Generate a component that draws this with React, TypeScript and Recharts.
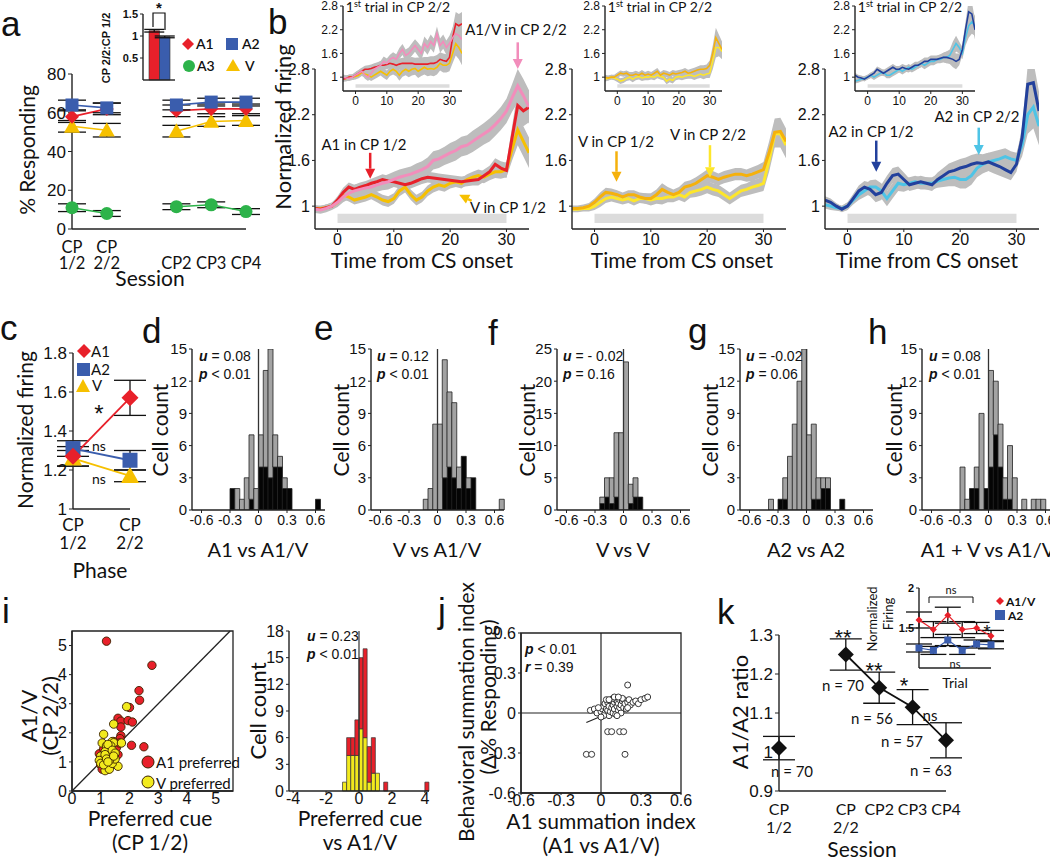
import React from 'react';
import {
  ComposedChart, Line, Area, Bar, Scatter, XAxis, YAxis, ErrorBar,
  ReferenceLine, ReferenceArea,
} from 'recharts';

const NUM = "'Liberation Sans', Arial, sans-serif";
const TXT = "Lato, 'Open Sans', sans-serif";
const INK = '#111';

const RED = '#e8202a';
const BLUE = '#3a5dad';
const GREEN = '#2db34a';
const GOLD = '#f6c000';
const PINK = '#f28dbb';
const ORANGE = '#f5b10c';
const LEMON = '#fde62b';
const NAVY = '#22409c';
const CYAN = '#4ec4e6';
const BAND = '#bdbdbd';
const CSBAR = '#dcdcdc';
const IYEL = '#f2ea1d';

// ---------- a: % responding
const sessionsA = ['CP\n1/2', 'CP\n2/2', '', 'CP2', 'CP3', 'CP4'];
const respA1 = [58, 62, null, 61, 62, 62];
const respA2 = [64, 62.5, null, 64, 65.5, 65.5];
const respA3 = [11, 8, null, 11.5, 12.5, 9];
const respV = [53, 51, null, 50.5, 55.5, 56];
const respA1Err = [3, 3, null, 3, 2.5, 2.5];
const respA2Err = [2.5, 2.5, null, 2.5, 2, 2];
const respA3Err = [2, 1.5, null, 1.5, 1.5, 1.5];
const respVErr = [3, 3.5, null, 3, 2.5, 2.5];
const insetGroups = ['A1', 'A2'];
const insetRatio = [1.12, 0.98];
const insetRatioErr = [0.03, 0.02];

// ---------- b: normalized firing traces (1 s bins)
const timeB = [-4, -3, -2, -1, 0, 1, 2, 3, 4, 5, 6, 7, 8, 9, 10, 11, 12, 13, 14, 15, 16, 17, 18, 19, 20, 21, 22, 23, 24, 25, 26, 27, 28, 29, 30, 31, 32, 33, 34];
const b1Pink = [0.96, 0.95, 0.97, 1.0, 1.05, 1.12, 1.17, 1.2, 1.22, 1.24, 1.25, 1.28, 1.3, 1.32, 1.35, 1.38, 1.4, 1.42, 1.45, 1.48, 1.52, 1.6, 1.62, 1.66, 1.7, 1.73, 1.78, 1.8, 1.85, 1.9, 1.95, 2.0, 2.07, 2.15, 2.25, 2.42, 2.58, 2.45, 2.3];
const b1Red = [0.97, 0.96, 0.98, 1.0, 1.08, 1.18, 1.25, 1.22, 1.25, 1.27, 1.3, 1.32, 1.35, 1.33, 1.32, 1.3, 1.28, 1.3, 1.33, 1.36, 1.38, 1.37, 1.36, 1.35, 1.34, 1.33, 1.32, 1.33, 1.34, 1.35, 1.4, 1.45, 1.55, 1.5, 1.47, 1.9, 2.32, 2.25, 2.3];
const b1Gold = [0.97, 0.97, 0.98, 1.0, 1.05, 1.15, 1.12, 1.08, 1.1, 1.12, 1.15, 1.12, 1.08, 1.06, 1.1, 1.2, 1.25, 1.15, 1.08, 1.12, 1.2, 1.25, 1.28, 1.26, 1.3, 1.32, 1.3, 1.35, 1.38, 1.4, 1.38, 1.42, 1.45, 1.45, 1.48, 1.75, 2.0, 1.85, 1.7];
const semB1Pink = [0.05, 0.05, 0.05, 0.05, 0.06, 0.07, 0.08, 0.08, 0.08, 0.08, 0.09, 0.09, 0.09, 0.1, 0.1, 0.1, 0.1, 0.1, 0.11, 0.11, 0.12, 0.12, 0.12, 0.12, 0.13, 0.13, 0.13, 0.13, 0.14, 0.14, 0.14, 0.15, 0.15, 0.15, 0.16, 0.18, 0.22, 0.22, 0.22];
const semB1 = [0.04, 0.04, 0.04, 0.04, 0.05, 0.06, 0.06, 0.06, 0.06, 0.06, 0.06, 0.07, 0.07, 0.07, 0.07, 0.07, 0.07, 0.07, 0.07, 0.07, 0.07, 0.07, 0.07, 0.07, 0.07, 0.07, 0.07, 0.07, 0.07, 0.08, 0.08, 0.08, 0.08, 0.09, 0.1, 0.15, 0.2, 0.2, 0.2];
const b1InRed = [0.95, 0.97, 1.0, 1.0, 1.05, 1.1, 1.15, 1.2, 1.2, 1.22, 1.25, 1.27, 1.3, 1.3, 1.32, 1.35, 1.33, 1.3, 1.33, 1.35, 1.35, 1.35, 1.35, 1.33, 1.33, 1.33, 1.33, 1.33, 1.35, 1.35, 1.38, 1.45, 1.42, 1.4, 1.5, 2.0, 2.35, 2.3, 2.35];
const b1InPink = [1.0, 0.98, 0.97, 1.0, 1.05, 1.1, 1.15, 1.05, 1.0, 1.1, 1.2, 1.25, 1.3, 1.4, 1.35, 1.45, 1.5, 1.45, 1.6, 1.7, 1.55, 1.6, 1.7, 1.8, 1.7, 1.6, 1.85, 1.75, 1.9, 1.8, 2.1, 1.8, 1.9, 1.75, 1.85, 2.0, 2.1, 2.05, 1.95];
const b1InGold = [0.97, 0.96, 1.0, 1.0, 1.02, 1.05, 1.12, 1.08, 1.05, 1.0, 1.05, 1.1, 1.15, 1.1, 1.05, 1.15, 1.2, 1.15, 1.05, 1.15, 1.2, 1.15, 1.2, 1.22, 1.15, 1.2, 1.25, 1.2, 1.22, 1.2, 1.25, 1.35, 1.3, 1.3, 1.35, 1.6, 1.85, 1.75, 1.6];
const semB1In = [0.07, 0.07, 0.07, 0.07, 0.08, 0.08, 0.09, 0.09, 0.1, 0.1, 0.1, 0.11, 0.11, 0.12, 0.12, 0.12, 0.13, 0.13, 0.14, 0.14, 0.15, 0.15, 0.16, 0.16, 0.17, 0.17, 0.18, 0.18, 0.18, 0.18, 0.18, 0.18, 0.18, 0.18, 0.2, 0.25, 0.3, 0.3, 0.3];

const b2Orange = [0.97, 0.97, 0.98, 1.0, 1.05, 1.12, 1.18, 1.17, 1.15, 1.12, 1.15, 1.15, 1.12, 1.1, 1.1, 1.15, 1.22, 1.18, 1.15, 1.18, 1.25, 1.27, 1.3, 1.35, 1.4, 1.38, 1.35, 1.38, 1.4, 1.42, 1.42, 1.4, 1.42, 1.45, 1.48, 1.7, 1.97, 1.98, 1.85];
const b2Lemon = [0.96, 0.96, 0.97, 0.97, 1.0, 1.05, 1.1, 1.12, 1.1, 1.08, 1.1, 1.07, 1.1, 1.1, 1.08, 1.1, 1.1, 1.12, 1.12, 1.15, 1.12, 1.18, 1.2, 1.22, 1.25, 1.22, 1.2, 1.15, 1.1, 1.15, 1.2, 1.22, 1.25, 1.27, 1.3, 1.6, 1.95, 1.95, 1.8];
const semB2 = [0.04, 0.04, 0.04, 0.04, 0.05, 0.06, 0.06, 0.06, 0.06, 0.06, 0.06, 0.06, 0.06, 0.07, 0.07, 0.07, 0.08, 0.07, 0.07, 0.07, 0.07, 0.07, 0.08, 0.08, 0.08, 0.08, 0.08, 0.08, 0.08, 0.08, 0.08, 0.08, 0.09, 0.09, 0.1, 0.15, 0.18, 0.18, 0.17];
const b2InOrange = [1.0, 0.98, 1.0, 1.0, 1.05, 1.1, 1.08, 1.1, 1.05, 1.05, 1.08, 1.05, 1.1, 1.05, 1.08, 1.05, 1.1, 1.15, 1.05, 1.1, 1.08, 1.05, 1.1, 1.08, 1.1, 1.12, 1.15, 1.1, 1.12, 1.15, 1.18, 1.2, 1.2, 1.22, 1.3, 1.6, 2.0, 1.85, 1.7];
const b2InLemon = [0.95, 0.97, 1.0, 0.98, 0.95, 0.9, 0.92, 0.97, 1.0, 0.95, 1.0, 1.02, 0.98, 1.0, 1.0, 1.02, 1.0, 1.05, 1.02, 1.0, 0.9, 0.95, 0.92, 1.0, 1.02, 1.0, 1.03, 1.05, 1.05, 1.02, 1.05, 1.08, 1.05, 1.08, 1.1, 1.4, 1.75, 1.75, 1.65];
const semB2In = [0.06, 0.06, 0.06, 0.06, 0.07, 0.07, 0.07, 0.07, 0.08, 0.08, 0.08, 0.08, 0.08, 0.08, 0.08, 0.08, 0.08, 0.08, 0.08, 0.08, 0.08, 0.08, 0.08, 0.08, 0.08, 0.08, 0.08, 0.09, 0.09, 0.09, 0.09, 0.1, 0.1, 0.1, 0.12, 0.2, 0.25, 0.22, 0.2];

const b3Navy = [1.08, 1.05, 1.0, 0.96, 1.0, 1.1, 1.2, 1.25, 1.22, 1.15, 1.18, 1.3, 1.4, 1.42, 1.35, 1.28, 1.3, 1.32, 1.3, 1.28, 1.35, 1.4, 1.45, 1.47, 1.5, 1.52, 1.55, 1.57, 1.56, 1.58, 1.55, 1.52, 1.48, 1.44, 1.55, 1.9, 2.6, 2.62, 2.25];
const b3Cyan = [1.02, 1.0, 0.98, 0.97, 1.0, 1.08, 1.15, 1.2, 1.25, 1.25, 1.2, 1.1, 1.2, 1.3, 1.28, 1.3, 1.32, 1.3, 1.3, 1.3, 1.33, 1.35, 1.37, 1.38, 1.35, 1.35, 1.4, 1.5, 1.55, 1.58, 1.6, 1.62, 1.65, 1.62, 1.6, 1.8, 2.2, 2.3, 2.05];
const semB3 = [0.05, 0.05, 0.04, 0.04, 0.05, 0.06, 0.07, 0.08, 0.09, 0.1, 0.1, 0.1, 0.1, 0.1, 0.09, 0.08, 0.08, 0.08, 0.08, 0.08, 0.09, 0.1, 0.11, 0.12, 0.12, 0.12, 0.12, 0.12, 0.12, 0.12, 0.12, 0.12, 0.11, 0.1, 0.1, 0.15, 0.25, 0.28, 0.25];
const b3InNavy = [1.05, 1.0, 0.98, 0.95, 1.0, 1.05, 1.1, 1.2, 1.15, 1.1, 1.15, 1.2, 1.25, 1.2, 1.2, 1.25, 1.22, 1.2, 1.25, 1.3, 1.3, 1.35, 1.4, 1.4, 1.45, 1.45, 1.45, 1.48, 1.5, 1.5, 1.48, 1.45, 1.4, 1.45, 1.7, 2.2, 2.65, 2.6, 2.2];
const b3InCyan = [0.9, 0.92, 0.95, 0.97, 1.0, 1.05, 1.0, 1.05, 1.1, 1.12, 1.05, 1.05, 1.1, 1.15, 1.2, 1.15, 1.2, 1.25, 1.2, 1.25, 1.3, 1.35, 1.3, 1.35, 1.4, 1.4, 1.45, 1.45, 1.5, 1.5, 1.55, 1.7, 1.85, 1.75, 1.6, 2.0, 2.3, 2.4, 2.3];
const semB3In = [0.06, 0.06, 0.06, 0.06, 0.06, 0.07, 0.07, 0.07, 0.08, 0.08, 0.08, 0.08, 0.08, 0.08, 0.08, 0.08, 0.08, 0.08, 0.08, 0.09, 0.09, 0.09, 0.1, 0.1, 0.1, 0.1, 0.1, 0.1, 0.12, 0.15, 0.15, 0.2, 0.2, 0.15, 0.15, 0.2, 0.3, 0.3, 0.25];

// ---------- c: normalized firing by phase
const phasesC = ['CP\n1/2', 'CP\n2/2'];
const firingA1 = [1.27, 1.57];
const firingA2 = [1.31, 1.25];
const firingV = [1.26, 1.17];
const firingA1Err = [0.05, 0.09];
const firingA2Err = [0.04, 0.05];
const firingVErr = [0.04, 0.03];

// ---------- d-h: histograms (gray = all cells, black = significant)
const histBins = [-0.675, -0.625, -0.575, -0.525, -0.475, -0.425, -0.375, -0.325, -0.275, -0.225, -0.175, -0.125, -0.075, -0.025, 0.025, 0.075, 0.125, 0.175, 0.225, 0.275, 0.325, 0.375, 0.425, 0.475, 0.525, 0.575, 0.625, 0.675];
const dTotal = [0, 0, 0, 0, 0, 0, 0, 0, 2, 2, 1, 3, 7, 2, 7, 13, 15, 7, 5, 3, 2, 0, 0, 0, 0, 0, 1, 0];
const dBlack = [0, 0, 0, 0, 0, 0, 0, 0, 2, 0, 0, 0, 1, 0, 4, 4, 3, 4, 4, 2, 2, 0, 0, 0, 0, 0, 1, 0];
const eTotal = [0, 0, 0, 0, 0, 0, 0, 0, 0, 0, 0, 1, 2, 8, 8, 14, 11, 10, 4, 5, 3, 3, 0, 0, 0, 0, 0, 1];
const eBlack = [0, 0, 0, 0, 0, 0, 0, 0, 0, 0, 0, 0, 0, 0, 0, 3, 4, 3, 2, 5, 2, 3, 0, 0, 0, 0, 0, 0];
const fTotal = [0, 0, 0, 0, 0, 0, 0, 0, 0, 2, 5, 5, 12, 12, 23, 4, 5, 2, 0, 0, 0, 0, 0, 0, 0, 0, 0, 0];
const fBlack = [0, 0, 0, 0, 0, 0, 0, 0, 0, 1, 2, 1, 2, 0, 0, 1, 2, 2, 0, 0, 0, 0, 0, 0, 0, 0, 0, 0];
const gTotal = [0, 0, 0, 0, 0, 0, 1, 0, 1, 3, 5, 8, 12, 15, 7, 8, 3, 3, 3, 0, 0, 1, 0, 0, 0, 0, 0, 0];
const gBlack = [0, 0, 0, 0, 0, 0, 0, 0, 1, 1, 0, 0, 0, 0, 0, 1, 1, 2, 2, 0, 0, 1, 0, 0, 0, 0, 0, 0];
const hTotal = [0, 0, 0, 0, 0, 0, 0, 0, 4, 1, 2, 4, 9, 2, 13, 12, 8, 3, 6, 3, 0, 1, 0, 1, 1, 1, 0, 0];
const hBlack = [0, 0, 0, 0, 0, 0, 0, 0, 0, 0, 2, 2, 0, 2, 4, 7, 4, 1, 1, 0, 0, 0, 0, 0, 0, 0, 0, 0];

// ---------- i: preferred cue vs A1/V
const iRedPoints = [[1.2, 5.15], [2.78, 4.32], [2.33, 3.45], [2.35, 3.12], [2.0, 2.87], [1.6, 2.5], [1.7, 2.4], [1.95, 2.42], [2.1, 2.37], [1.7, 2.2], [1.7, 1.9], [2.07, 1.57], [2.5, 1.52], [1.67, 1.8], [1.6, 1.25], [1.3, 1.5], [1.4, 1.35], [1.2, 1.2], [1.05, 1.25], [0.95, 1.28], [1.1, 0.8], [1.0, 0.9], [1.3, 1.0], [1.5, 1.55], [1.45, 1.7], [1.15, 1.05], [1.25, 0.75], [1.35, 1.15], [1.55, 1.5], [1.1, 1.45], [1.3, 0.85], [1.0, 1.1], [1.2, 0.95], [1.4, 1.6], [1.65, 1.65], [1.25, 1.3], [1.05, 0.75]];
const iYellowPoints = [[1.9, 2.9], [1.45, 2.3], [1.1, 1.95], [1.4, 1.7], [1.45, 1.66], [1.72, 1.65], [1.6, 0.85], [1.05, 1.65], [1.2, 1.55], [1.3, 1.45], [1.15, 1.35], [1.0, 1.2], [1.1, 1.1], [1.25, 1.15], [1.35, 1.25], [1.05, 1.0], [0.95, 1.05], [1.2, 0.85], [1.15, 0.7], [1.3, 0.75], [1.4, 0.95], [1.5, 1.1], [1.35, 1.55], [1.25, 1.6], [1.15, 1.25], [1.0, 0.95], [1.1, 0.9], [1.4, 1.4], [1.5, 1.3], [1.3, 1.05], [1.2, 1.1], [1.45, 1.2], [1.25, 1.0]];
const iBins = [-4.125, -3.875, -3.625, -3.375, -3.125, -2.875, -2.625, -2.375, -2.125, -1.875, -1.625, -1.375, -1.125, -0.875, -0.625, -0.375, -0.125, 0.125, 0.375, 0.625, 0.875, 1.125, 1.375, 1.625, 1.875, 2.125, 2.375, 2.625, 2.875, 3.125, 3.375, 3.625, 3.875, 4.125];
const iTotal = [0, 0, 0, 0, 0, 0, 0, 0, 0, 0, 0, 0, 0, 1, 6, 6, 8, 15, 16, 5, 6, 2, 0, 1, 0, 0, 0, 0, 0, 0, 0, 0, 0, 1];
const iYellow = [0, 0, 0, 0, 0, 0, 0, 0, 0, 0, 0, 0, 0, 1, 4, 4, 4, 7, 6, 1, 2, 2, 0, 0, 0, 0, 0, 0, 0, 0, 0, 0, 0, 0];

// ---------- j: summation index
const jPoints = [[0.2, 0.21], [0.05, -0.14], [0.08, -0.14], [0.14, -0.14], [0.17, -0.14], [-0.11, -0.31], [-0.07, -0.31], [0.18, -0.31],
  [-0.08, 0.02], [-0.05, 0.03], [-0.03, 0.0], [0.0, 0.01], [0.01, 0.03], [0.02, 0.05], [0.03, 0.0], [0.03, 0.07], [0.04, 0.03], [0.05, 0.08], [0.05, 0.02], [0.06, -0.02], [0.06, 0.05], [0.07, 0.09], [0.07, 0.01], [0.08, 0.04], [0.08, 0.1], [0.09, 0.06], [0.09, 0.0], [0.1, 0.08], [0.1, 0.03], [0.11, 0.1], [0.11, -0.01], [0.12, 0.05], [0.12, 0.09], [0.13, 0.02], [0.13, 0.07], [0.14, 0.1], [0.14, 0.04], [0.15, 0.06], [0.15, 0.0], [0.16, 0.09], [0.17, 0.04], [0.17, 0.1], [0.18, 0.07], [0.19, 0.03], [0.2, 0.08], [0.21, 0.1], [0.22, 0.06], [0.24, 0.08], [0.26, 0.09], [0.28, 0.07], [0.3, 0.1], [0.33, 0.11], [0.35, 0.12], [0.02, -0.02], [0.04, 0.1], [0.09, 0.11], [0.06, 0.1], [0.12, -0.02], [0.0, -0.03], [-0.02, 0.04], [0.16, 0.11], [0.2, 0.04], [0.1, 0.12], [0.13, 0.12]];
const jFit = { slope: 0.42, intercept: -0.025 };

// ---------- k: A1/A2 ratio
const sessionsK = ['CP\n1/2', '', 'CP\n2/2', 'CP2', 'CP3', 'CP4'];
const ratioK = [1.01, null, 1.25, 1.165, 1.115, 1.03];
const ratioKErr = [0.03, null, 0.04, 0.04, 0.045, 0.045];
const trialsK = ['1', '2', '3', '4', '5', '6'];
const trialA1V = [1.6, 1.48, 1.66, 1.48, 1.5, 1.4];
const trialA1VErr = [0.1, 0.1, 0.1, 0.1, 0.07, 0.07];
const trialA2 = [1.25, 1.22, 1.35, 1.22, 1.3, 1.29];
const trialA2Err = [0.05, 0.05, 0.07, 0.05, 0.05, 0.05];

// ---------- helpers
const AX = { stroke: '#222', strokeWidth: 1.4 };
const TL = { stroke: '#222' };
const tk = (s) => ({ fontSize: s, fontFamily: NUM, fill: INK });

function Frame({ box, yw, xh, data, children, barGap, barCategoryGap }) {
  const [x0, y0, x1, y1] = box;
  const pad = 12;
  return (
    <div style={{ position: 'absolute', left: x0 - yw, top: y0 - pad }}>
      <ComposedChart
        width={x1 - x0 + yw + pad}
        height={y1 - y0 + xh + pad}
        data={data}
        margin={{ top: pad, right: pad, bottom: 0, left: 0 }}
        barGap={barGap}
        barCategoryGap={barCategoryGap}
      >
        {children}
      </ComposedChart>
    </div>
  );
}

const CatTick = ({ x, y, payload, size, dy, gap, single }) => {
  const parts = String(payload.value).split('\n');
  const lines = parts.length === 1 && single === 2 ? ['', parts[0]] : parts;
  return (
    <text x={x} y={y} textAnchor="middle" fontSize={size} fontFamily={TXT} fill={INK}>
      {lines.map((l, i) => (
        <tspan key={i} x={x} y={y + dy + i * gap}>{l}</tspan>
      ))}
    </text>
  );
};

const mk = (kind, color, s, stroke = 'none') => (p) => {
  const { cx, cy, index, value } = p;
  if (cx == null || cy == null || value == null) return <g key={`m${index}`} />;
  if (kind === 'diamond')
    return <polygon key={`m${index}`} points={`${cx},${cy - s} ${cx + s},${cy} ${cx},${cy + s} ${cx - s},${cy}`} fill={color} stroke={stroke} />;
  if (kind === 'square')
    return <rect key={`m${index}`} x={cx - s} y={cy - s} width={2 * s} height={2 * s} fill={color} stroke={stroke} />;
  if (kind === 'triangle')
    return <polygon key={`m${index}`} points={`${cx},${cy - s} ${cx + s},${cy + s * 0.8} ${cx - s},${cy + s * 0.8}`} fill={color} />;
  return <circle key={`m${index}`} cx={cx} cy={cy} r={s} fill={color} stroke={stroke} />;
};

const Arrow = (p) => {
  const { x1, y1, x2, y2, color } = p;
  const ang = Math.atan2(y2 - y1, x2 - x1);
  const L = 10;
  const W = 5;
  const bx = x2 - L * Math.cos(ang);
  const by = y2 - L * Math.sin(ang);
  const px = -Math.sin(ang) * W;
  const py = Math.cos(ang) * W;
  return (
    <g>
      <line x1={x1} y1={y1} x2={bx} y2={by} stroke={color} strokeWidth={2.5} />
      <polygon points={`${x2},${y2} ${bx + px},${by + py} ${bx - px},${by - py}`} fill={color} />
    </g>
  );
};

function traceRows(series) {
  return timeB.map((t, i) => {
    const row = { t };
    Object.keys(series).forEach((k) => {
      const [v, s] = series[k];
      row[k] = v[i];
      row[k + 'Band'] = [v[i] - s[i], v[i] + s[i]];
    });
    return row;
  });
}

function Trace({ box, rows, lines, w, size, yw, xh, cs, yDomain, arrows = [] }) {
  return (
    <Frame box={box} data={rows} yw={yw} xh={xh}>
      <XAxis dataKey="t" type="number" domain={[-4, 34]} ticks={[0, 10, 20, 30]} allowDataOverflow
        axisLine={AX} tickLine={TL} tickSize={3} tick={tk(size)} height={xh} />
      <YAxis type="number" domain={yDomain} ticks={[1, 1.6, 2.2, 2.8]} allowDataOverflow
        axisLine={AX} tickLine={TL} tickSize={3} tick={tk(size)} width={yw} />
      <ReferenceArea x1={0} x2={30} y1={cs[0]} y2={cs[1]} fill={CSBAR} fillOpacity={1} stroke="none" ifOverflow="visible" />
      {lines.map((l) => (
        <Area key={l.key + 'Band'} dataKey={l.key + 'Band'} type="linear" stroke="none" fill={BAND}
          fillOpacity={1} isAnimationActive={false} activeDot={false} />
      ))}
      {lines.map((l) => (
        <Line key={l.key} dataKey={l.key} type="linear" stroke={l.color} strokeWidth={w}
          dot={false} isAnimationActive={false} activeDot={false} />
      ))}
      {arrows.map((a, i) => (
        <ReferenceLine key={'ar' + i} segment={[{ x: a.x1, y: a.y1 }, { x: a.x2, y: a.y2 }]}
          ifOverflow="visible" shape={(p) => <Arrow {...p} color={a.color} />} />
      ))}
    </Frame>
  );
}

function Hist({ box, total, black, yMax, yTicks }) {
  const rows = histBins.map((b, i) => ({ bin: b, black: black[i], gray: total[i] - black[i] }));
  return (
    <Frame box={box} data={rows} yw={30} xh={24} barCategoryGap={0} barGap={0}>
      <XAxis xAxisId="c" dataKey="bin" type="category" hide height={0} />
      <XAxis xAxisId="n" dataKey="bin" type="number" domain={[-0.7, 0.7]} ticks={[-0.6, -0.3, 0, 0.3, 0.6]}
        allowDataOverflow axisLine={AX} tickLine={TL} tickSize={3} tick={tk(14)} height={24} />
      <YAxis domain={[0, yMax]} ticks={yTicks} allowDataOverflow axisLine={AX} tickLine={TL}
        tickSize={3} tick={tk(15)} width={30} />
      <Bar xAxisId="c" dataKey="black" stackId="s" fill="#050505" stroke="#222" strokeWidth={0.8} isAnimationActive={false} />
      <Bar xAxisId="c" dataKey="gray" stackId="s" fill="#a3a3a3" stroke="#222" strokeWidth={0.8} isAnimationActive={false} />
      <ReferenceLine xAxisId="n" x={0} stroke="#333" strokeWidth={1.3} />
    </Frame>
  );
}

const Tx = ({ x, y, s = 16, a = 'middle', r = false, w = 400, it = false, f = TXT, c = INK, children }) => (
  <text
    x={r ? 0 : x}
    y={r ? 0 : y}
    transform={r ? `translate(${x},${y}) rotate(-90)` : undefined}
    textAnchor={a}
    fontSize={s}
    fontWeight={w}
    fontStyle={it ? 'italic' : 'normal'}
    fontFamily={f}
    fill={c}
  >
    {children}
  </text>
);

const UP = ({ x, y, l1, v1, l2, v2 }) => (
  <g>
    <Tx x={x} y={y} s={14} a="start" f={NUM}>
      <tspan fontWeight="bold" fontStyle="italic">{l1}</tspan>{v1}
    </Tx>
    <Tx x={x} y={y + 18} s={14} a="start" f={NUM}>
      <tspan fontWeight="bold" fontStyle="italic">{l2}</tspan>{v2}
    </Tx>
  </g>
);

const Trial = ({ x, y }) => (
  <Tx x={x} y={y} s={14}>
    1<tspan dy={-5} fontSize={9}>st</tspan><tspan dy={5}> trial in CP 2/2</tspan>
  </Tx>
);

export default function App() {
  const rowsA = sessionsA.map((s, i) => ({
    s, a1: respA1[i], a2: respA2[i], a3: respA3[i], v: respV[i],
    a1Err: respA1Err[i], a2Err: respA2Err[i], a3Err: respA3Err[i], vErr: respVErr[i],
  }));
  const rowsAIn = [{ g: insetGroups.join('/'), a1: insetRatio[0], a2: insetRatio[1], a1Err: insetRatioErr[0], a2Err: insetRatioErr[1] }];
  const rowsB1 = traceRows({ pink: [b1Pink, semB1Pink], red: [b1Red, semB1], gold: [b1Gold, semB1] });
  const rowsB1In = traceRows({ pink: [b1InPink, semB1In], red: [b1InRed, semB1In], gold: [b1InGold, semB1In] });
  const rowsB2 = traceRows({ orange: [b2Orange, semB2], lemon: [b2Lemon, semB2] });
  const rowsB2In = traceRows({ orange: [b2InOrange, semB2In], lemon: [b2InLemon, semB2In] });
  const rowsB3 = traceRows({ navy: [b3Navy, semB3], cyan: [b3Cyan, semB3] });
  const rowsB3In = traceRows({ navy: [b3InNavy, semB3In], cyan: [b3InCyan, semB3In] });
  const rowsC = phasesC.map((p, i) => ({
    p, a1: firingA1[i], a2: firingA2[i], v: firingV[i],
    a1Err: firingA1Err[i], a2Err: firingA2Err[i], vErr: firingVErr[i],
  }));
  const rowsIH = iBins.map((b, i) => ({ bin: b, yel: iYellow[i], red: iTotal[i] - iYellow[i] }));
  const redPts = iRedPoints.map(([x, y]) => ({ x, y }));
  const yelPts = iYellowPoints.map(([x, y]) => ({ x, y }));
  const jPts = jPoints.map(([x, y]) => ({ x, y }));
  const jxs = jPoints.map((p) => p[0]);
  const jx0 = Math.min(...jxs);
  const jx1 = Math.max(...jxs.filter((x) => x < 0.4));
  const rowsK = sessionsK.map((s, i) => ({ s, r: ratioK[i], rErr: ratioKErr[i] }));
  const rowsKIn = trialsK.map((t, i) => ({ t, av: trialA1V[i], avErr: trialA1VErr[i], a2: trialA2[i], a2Err: trialA2Err[i] }));

  const catTick = (size, dy, gap, single) => (p) => <CatTick {...p} size={size} dy={dy} gap={gap} single={single} />;
  const eb = (key, w = 14) => <ErrorBar dataKey={key} width={w} stroke="#111" strokeWidth={1.3} direction="y" />;

  return (
    <div style={{ position: 'absolute', left: 0, top: 0, width: 1050, height: 857, background: '#fff', overflow: 'hidden' }}>
      <style>{'.recharts-surface{overflow:visible}'}</style>

      {/* a */}
      <Frame box={[72, 74, 246, 229]} data={rowsA} yw={40} xh={44}>
        <XAxis dataKey="s" axisLine={AX} tickLine={false} height={44} interval={0} tick={catTick(16.5, 16, 16, 2)} />
        <YAxis domain={[0, 80]} ticks={[0, 20, 40, 60, 80]} axisLine={AX} tickLine={TL} tickSize={4} tick={tk(17)} width={40} />
        <Line dataKey="a3" stroke={GREEN} strokeWidth={1.6} dot={mk('circle', GREEN, 6.5)} isAnimationActive={false} activeDot={false}>{eb('a3Err')}</Line>
        <Line dataKey="v" stroke={GOLD} strokeWidth={1.6} dot={mk('triangle', GOLD, 8)} isAnimationActive={false} activeDot={false}>{eb('vErr')}</Line>
        <Line dataKey="a1" stroke={RED} strokeWidth={1.6} dot={mk('diamond', RED, 7)} isAnimationActive={false} activeDot={false}>{eb('a1Err')}</Line>
        <Line dataKey="a2" stroke={BLUE} strokeWidth={1.6} dot={mk('square', BLUE, 6.5)} isAnimationActive={false} activeDot={false}>{eb('a2Err')}</Line>
      </Frame>
      <Frame box={[143, 14, 175, 80]} data={rowsAIn} yw={26} xh={4} barGap={0}>
        <XAxis dataKey="g" axisLine={AX} tick={false} tickLine={false} height={4} />
        <YAxis domain={[0, 1.5]} ticks={[0, 0.5, 1, 1.5]} axisLine={AX} tickLine={TL} tickSize={3}
          tick={{ fontSize: 11, fontFamily: NUM, fontWeight: 'bold', fill: INK }} width={26} />
        <Bar dataKey="a1" fill={RED} stroke="#333" strokeWidth={0.6} barSize={10.5} isAnimationActive={false}>{eb('a1Err', 10)}</Bar>
        <Bar dataKey="a2" fill={BLUE} stroke="#333" strokeWidth={0.6} barSize={10.5} isAnimationActive={false}>{eb('a2Err', 10)}</Bar>
      </Frame>

      {/* b */}
      <Trace box={[315, 69, 529, 229]} rows={rowsB1} w={3} size={16} yw={36} xh={26} cs={[0.78, 0.9]} yDomain={[0.7, 2.8]}
        lines={[{ key: 'gold', color: GOLD }, { key: 'red', color: RED }, { key: 'pink', color: PINK }]}
        arrows={[
          { x1: 5.8, y1: 1.7, x2: 5.8, y2: 1.36, color: RED },
          { x1: 32, y1: 3.15, x2: 32, y2: 2.8, color: PINK },
          { x1: 23.8, y1: 1.07, x2: 21.6, y2: 1.15, color: GOLD },
        ]} />
      <Trace box={[343, 6, 462, 91]} rows={rowsB1In} w={1.6} size={12} yw={26} xh={20} cs={[0.73, 0.82]} yDomain={[0.65, 2.8]}
        lines={[{ key: 'gold', color: GOLD }, { key: 'red', color: RED }, { key: 'pink', color: PINK }]} />

      <Trace box={[572, 69, 786, 229]} rows={rowsB2} w={3} size={16} yw={36} xh={26} cs={[0.78, 0.9]} yDomain={[0.7, 2.8]}
        lines={[{ key: 'lemon', color: LEMON }, { key: 'orange', color: ORANGE }]}
        arrows={[
          { x1: 3.9, y1: 1.72, x2: 3.9, y2: 1.32, color: ORANGE },
          { x1: 20.5, y1: 1.8, x2: 20.5, y2: 1.38, color: LEMON },
        ]} />
      <Trace box={[605, 6, 722, 91]} rows={rowsB2In} w={1.6} size={12} yw={26} xh={20} cs={[0.73, 0.82]} yDomain={[0.65, 2.8]}
        lines={[{ key: 'lemon', color: LEMON }, { key: 'orange', color: ORANGE }]} />

      <Trace box={[825, 69, 1039, 229]} rows={rowsB3} w={3} size={16} yw={36} xh={26} cs={[0.78, 0.9]} yDomain={[0.7, 2.8]}
        lines={[{ key: 'cyan', color: CYAN }, { key: 'navy', color: NAVY }]}
        arrows={[
          { x1: 5.1, y1: 1.86, x2: 5.1, y2: 1.45, color: NAVY },
          { x1: 23.3, y1: 2.03, x2: 23.3, y2: 1.67, color: CYAN },
        ]} />
      <Trace box={[855, 6, 975, 91]} rows={rowsB3In} w={1.6} size={12} yw={26} xh={20} cs={[0.73, 0.82]} yDomain={[0.65, 2.8]}
        lines={[{ key: 'cyan', color: CYAN }, { key: 'navy', color: NAVY }]} />

      {/* c */}
      <Frame box={[73, 353, 130, 509]} data={rowsC} yw={42} xh={44}>
        <XAxis dataKey="p" axisLine={AX} tickLine={false} height={44} interval={0} tick={catTick(17, 14, 18, 1)} />
        <YAxis domain={[1, 1.8]} ticks={[1, 1.2, 1.4, 1.6, 1.8]} axisLine={AX} tickLine={TL} tickSize={4} tick={tk(17)} width={42} />
        <Line dataKey="v" stroke={GOLD} strokeWidth={1.8} dot={mk('triangle', GOLD, 9)} isAnimationActive={false} activeDot={false}>{eb('vErr', 16)}</Line>
        <Line dataKey="a2" stroke={BLUE} strokeWidth={1.8} dot={mk('square', BLUE, 7.5)} isAnimationActive={false} activeDot={false}>{eb('a2Err', 16)}</Line>
        <Line dataKey="a1" stroke={RED} strokeWidth={1.8} dot={mk('diamond', RED, 8.5)} isAnimationActive={false} activeDot={false}>{eb('a1Err', 16)}</Line>
      </Frame>

      {/* d-h */}
      <Hist box={[192, 349, 325, 510]} total={dTotal} black={dBlack} yMax={15} yTicks={[0, 3, 6, 9, 12, 15]} />
      <Hist box={[371, 349, 504, 510]} total={eTotal} black={eBlack} yMax={15} yTicks={[0, 3, 6, 9, 12, 15]} />
      <Hist box={[557, 349, 690, 510]} total={fTotal} black={fBlack} yMax={25} yTicks={[0, 5, 10, 15, 20, 25]} />
      <Hist box={[740, 349, 873, 510]} total={gTotal} black={gBlack} yMax={15} yTicks={[0, 3, 6, 9, 12, 15]} />
      <Hist box={[922, 349, 1055, 510]} total={hTotal} black={hBlack} yMax={15} yTicks={[0, 3, 6, 9, 12, 15]} />

      {/* i scatter */}
      <Frame box={[72, 631, 233, 791]} yw={30} xh={20}>
        <XAxis dataKey="x" type="number" domain={[0, 5.6]} ticks={[0, 1, 2, 3, 4, 5]} allowDataOverflow
          axisLine={AX} tickLine={TL} tickSize={2} tickMargin={0} tick={tk(16)} height={20} />
        <YAxis dataKey="y" type="number" domain={[0, 5.5]} ticks={[0, 1, 2, 3, 4, 5]} allowDataOverflow
          axisLine={AX} tickLine={TL} tickSize={3} tick={tk(16)} width={30} />
        <ReferenceArea x1={0} x2={5.6} y1={0} y2={5.5} fill="none" stroke="#222" strokeWidth={1.3} />
        <ReferenceLine segment={[{ x: 0, y: 0 }, { x: 5.5, y: 5.5 }]} stroke="#222" strokeWidth={1.3} />
        <Scatter data={redPts} isAnimationActive={false}
          shape={(p) => <circle cx={p.cx} cy={p.cy} r={4.2} fill={RED} stroke="#3b2200" strokeWidth={0.9} />} />
        <Scatter data={yelPts} isAnimationActive={false}
          shape={(p) => <circle cx={p.cx} cy={p.cy} r={4.2} fill={IYEL} stroke="#3b2200" strokeWidth={0.9} />} />
      </Frame>

      {/* i histogram */}
      <Frame box={[289, 631, 429, 791]} data={rowsIH} yw={28} xh={20} barCategoryGap={0} barGap={0}>
        <XAxis xAxisId="c" dataKey="bin" type="category" hide height={0} />
        <XAxis xAxisId="n" dataKey="bin" type="number" domain={[-4.25, 4.25]} ticks={[-4, -2, 0, 2, 4]} allowDataOverflow
          axisLine={AX} tickLine={TL} tickSize={2} tickMargin={0} tick={tk(16)} height={20} />
        <YAxis domain={[0, 18]} ticks={[0, 3, 6, 9, 12, 15, 18]} axisLine={AX} tickLine={TL} tickSize={3} tick={tk(16)} width={28} />
        <Bar xAxisId="c" dataKey="yel" stackId="s" fill={IYEL} stroke="#333" strokeWidth={0.7} isAnimationActive={false} />
        <Bar xAxisId="c" dataKey="red" stackId="s" fill={RED} stroke="#333" strokeWidth={0.7} isAnimationActive={false} />
        <ReferenceLine xAxisId="n" x={0} stroke="#333" strokeWidth={1.2} />
      </Frame>

      {/* j */}
      <Frame box={[521, 633, 681, 793]} yw={30} xh={20}>
        <XAxis dataKey="x" type="number" domain={[-0.6, 0.6]} ticks={[-0.6, -0.3, 0, 0.3, 0.6]} allowDataOverflow
          axisLine={AX} tickLine={TL} tickSize={2} tickMargin={0} tick={tk(16)} height={20} />
        <YAxis dataKey="y" type="number" domain={[-0.6, 0.6]} ticks={[-0.6, -0.3, 0, 0.3, 0.6]} allowDataOverflow
          axisLine={AX} tickLine={TL} tickSize={3} tick={tk(16)} width={30} />
        <ReferenceArea x1={-0.6} x2={0.6} y1={-0.6} y2={0.6} fill="none" stroke="#222" strokeWidth={1.3} />
        <ReferenceLine x={0} stroke="#222" strokeWidth={1.2} />
        <ReferenceLine y={0} stroke="#222" strokeWidth={1.2} />
        <ReferenceLine segment={[
          { x: jx0, y: jFit.intercept + jFit.slope * jx0 },
          { x: jx1, y: jFit.intercept + jFit.slope * jx1 },
        ]} stroke="#222" strokeWidth={1.2} />
        <Scatter data={jPts} isAnimationActive={false}
          shape={(p) => <circle cx={p.cx} cy={p.cy} r={3} fill="#fff" stroke="#222" strokeWidth={0.9} />} />
      </Frame>

      {/* k */}
      <Frame box={[779, 635, 946, 791]} data={rowsK} yw={40} xh={44}>
        <XAxis dataKey="s" axisLine={AX} tickLine={false} height={44} interval={0} tick={catTick(16, 16, 18, 1)} />
        <YAxis domain={[0.9, 1.3]} ticks={[0.9, 1, 1.1, 1.2, 1.3]} axisLine={AX} tickLine={TL} tickSize={4} tick={tk(17)} width={40} />
        <Line dataKey="r" stroke="#111" strokeWidth={1.8} dot={mk('diamond', '#111', 8)} isAnimationActive={false} activeDot={false}>{eb('rErr', 16)}</Line>
      </Frame>
      <Frame box={[919, 588, 991, 668]} data={rowsKIn} yw={22} xh={4}>
        <XAxis dataKey="t" axisLine={AX} tick={false} tickLine={false} height={4} />
        <YAxis domain={[1, 2]} ticks={[1, 1.5, 2]} axisLine={AX} tickLine={TL} tickSize={3}
          tick={{ fontSize: 11, fontFamily: NUM, fontWeight: 'bold', fill: INK }} width={22} />
        <Line dataKey="a2" stroke={BLUE} strokeWidth={1.2} dot={mk('square', BLUE, 3.5)} isAnimationActive={false} activeDot={false}>{eb('a2Err', 13)}</Line>
        <Line dataKey="av" stroke={RED} strokeWidth={1.2} dot={mk('diamond', RED, 3.5)} isAnimationActive={false} activeDot={false}>{eb('avErr', 13)}</Line>
      </Frame>

      {/* annotations */}
      <svg width={1050} height={857} style={{ position: 'absolute', left: 0, top: 0, pointerEvents: 'none' }}>
        {/* panel letters */}
        <Tx x={1} y={36} s={35} a="start" f={NUM}>a</Tx>
        <Tx x={268} y={34} s={35} a="start" f={NUM}>b</Tx>
        <Tx x={0} y={340} s={35} a="start" f={NUM}>c</Tx>
        <Tx x={142} y={343} s={35} a="start" f={NUM}>d</Tx>
        <Tx x={314} y={340} s={35} a="start" f={NUM}>e</Tx>
        <Tx x={488} y={345} s={35} a="start" f={NUM}>f</Tx>
        <Tx x={688} y={343} s={35} a="start" f={NUM}>g</Tx>
        <Tx x={868} y={344} s={35} a="start" f={NUM}>h</Tx>
        <Tx x={2} y={623} s={35} a="start" f={NUM}>i</Tx>
        <Tx x={438} y={623} s={35} a="start" f={NUM}>j</Tx>
        <Tx x={717} y={624} s={35} a="start" f={NUM}>k</Tx>

        {/* a */}
        <Tx x={35} y={150} s={21} r>% Responding</Tx>
        <Tx x={150} y={286} s={21}>Session</Tx>
        <polygon points="188,38 194,44 188,50 182,44" fill={RED} />
        <Tx x={196} y={49} s={14} a="start" w={600}>A1</Tx>
        <rect x={226} y={38} width={12} height={12} fill={BLUE} />
        <Tx x={242} y={49} s={14} a="start" w={600}>A2</Tx>
        <circle cx={189} cy={66} r={6} fill={GREEN} />
        <Tx x={197} y={71} s={14} a="start" w={600}>A3</Tx>
        <polygon points="233,59 240,71 226,71" fill={GOLD} />
        <Tx x={245} y={71} s={14} a="start" w={600}>V</Tx>
        <Tx x={110} y={48} s={11} r w={700} f={NUM}>CP 2/2:CP 1/2</Tx>
        <path d="M153,27 V13 H165 V30" fill="none" stroke="#111" strokeWidth={1.2} />
        <Tx x={159} y={13} s={15} w={700} f={NUM}>*</Tx>

        {/* b */}
        <Tx x={291} y={127} s={22} r>Normalized firing</Tx>
        <Tx x={422} y={268} s={21}>Time from CS onset</Tx>
        <Tx x={682} y={268} s={21}>Time from CS onset</Tx>
        <Tx x={927} y={268} s={21}>Time from CS onset</Tx>
        <Tx x={364} y={150} s={15}>A1 in CP 1/2</Tx>
        <Tx x={516} y={35} s={15}>A1/V in CP 2/2</Tx>
        <Tx x={508} y={213} s={15}>V in CP 1/2</Tx>
        <Tx x={616} y={147} s={15}>V in CP 1/2</Tx>
        <Tx x={708} y={140} s={15}>V in CP 2/2</Tx>
        <Tx x={871} y={137} s={15}>A2 in CP 1/2</Tx>
        <Tx x={977} y={122} s={15}>A2 in CP 2/2</Tx>
        <Trial x={398} y={12} />
        <Trial x={660} y={12} />
        <Trial x={910} y={12} />

        {/* c */}
        <Tx x={33} y={430} s={21} r>Normalized firing</Tx>
        <polygon points="84,344 91,351 84,358 77,351" fill={RED} />
        <Tx x={91} y={357} s={15} a="start">A1</Tx>
        <rect x={77} y={363} width={13} height={13} fill={BLUE} />
        <Tx x={91} y={375} s={15} a="start">A2</Tx>
        <polygon points="83,379 90,392 76,392" fill={GOLD} />
        <Tx x={92} y={391} s={15} a="start">V</Tx>
        <Tx x={99} y={422} s={24} f={NUM}>*</Tx>
        <Tx x={99} y={451} s={14}>ns</Tx>
        <Tx x={99} y={484} s={14}>ns</Tx>
        <Tx x={100} y={578} s={21}>Phase</Tx>

        {/* d-h */}
        <Tx x={168} y={430} s={21} r>Cell count</Tx>
        <Tx x={349} y={430} s={21} r>Cell count</Tx>
        <Tx x={535} y={430} s={21} r>Cell count</Tx>
        <Tx x={718} y={430} s={21} r>Cell count</Tx>
        <Tx x={902} y={430} s={21} r>Cell count</Tx>
        <UP x={199} y={361} l1="u" v1=" = 0.08" l2="p" v2=" < 0.01" />
        <UP x={377} y={361} l1="u" v1=" = 0.12" l2="p" v2=" < 0.01" />
        <UP x={563} y={361} l1="u" v1=" = - 0.02" l2="p" v2=" = 0.16" />
        <UP x={746} y={361} l1="u" v1=" = -0.02" l2="p" v2=" = 0.06" />
        <UP x={929} y={361} l1="u" v1=" = 0.08" l2="p" v2=" < 0.01" />
        <Tx x={258} y={557} s={20}>A1 vs A1/V</Tx>
        <Tx x={437} y={557} s={20}>V vs A1/V</Tx>
        <Tx x={623} y={557} s={20}>V vs V</Tx>
        <Tx x={806} y={557} s={20}>A2 vs A2</Tx>
        <Tx x={988} y={557} s={20}>A1 + V vs A1/V</Tx>

        {/* i */}
        <Tx x={37} y={716} s={22} r>A1/V</Tx>
        <Tx x={58} y={716} s={22} r>(CP 2/2)</Tx>
        <Tx x={150} y={826} s={21}>Preferred cue</Tx>
        <Tx x={150} y={850} s={21}>(CP 1/2)</Tx>
        <circle cx={148} cy={762} r={6} fill={RED} stroke="#3b2200" />
        <Tx x={156} y={768} s={15} a="start">A1 preferred</Tx>
        <circle cx={148} cy={782} r={6} fill={IYEL} stroke="#3b2200" />
        <Tx x={156} y={789} s={15} a="start">V preferred</Tx>
        <Tx x={266} y={711} s={22} r>Cell count</Tx>
        <UP x={307} y={641} l1="u" v1=" = 0.23" l2="p" v2=" < 0.01" />
        <Tx x={360} y={826} s={21}>Preferred cue</Tx>
        <Tx x={360} y={850} s={21}>vs A1/V</Tx>

        {/* j */}
        <Tx x={474} y={712} s={21} r>Behavioral summation index</Tx>
        <Tx x={496} y={697} s={21} r>(Δ% Responding)</Tx>
        <UP x={525} y={654} l1="p" v1=" < 0.01" l2="r" v2=" = 0.39" />
        <Tx x={601} y={829} s={21}>A1 summation index</Tx>
        <Tx x={601} y={853} s={21}>(A1 vs A1/V)</Tx>

        {/* k */}
        <Tx x={748} y={712} s={22} r>A1/A2 ratio</Tx>
        <Tx x={843} y={645} s={22} f={NUM}>**</Tx>
        <Tx x={874} y={678} s={22} f={NUM}>**</Tx>
        <Tx x={904} y={693} s={22} f={NUM}>*</Tx>
        <Tx x={930} y={721} s={15}>ns</Tx>
        <Tx x={792} y={777} s={15}>n = 70</Tx>
        <Tx x={843} y={691} s={15}>n = 70</Tx>
        <Tx x={872} y={724} s={15}>n = 56</Tx>
        <Tx x={902} y={747} s={15}>n = 57</Tx>
        <Tx x={931} y={776} s={15}>n = 63</Tx>
        <Tx x={862} y={857} s={21}>Session</Tx>
        <Tx x={877} y={619} s={13} r>Normalized</Tx>
        <Tx x={893} y={614} s={13} r>Firing</Tx>
        <Tx x={955} y={688} s={14}>Trial</Tx>
        <polygon points="1000,597 1004,601 1000,605 996,601" fill={RED} />
        <Tx x={1006} y={606} s={12} a="start" w={700}>A1/V</Tx>
        <rect x={995} y={610} width={10} height={10} fill={BLUE} />
        <Tx x={1008} y={620} s={12} a="start" w={700}>A2</Tx>
        <path d="M929,603 V597 H973 V603" fill="none" stroke="#111" strokeWidth={1} />
        <Tx x={951} y={594} s={11}>ns</Tx>
        <Tx x={955} y={668} s={11}>ns</Tx>
        <Tx x={987} y={638} s={18} f={NUM}>*</Tx>
      </svg>
    </div>
  );
}
